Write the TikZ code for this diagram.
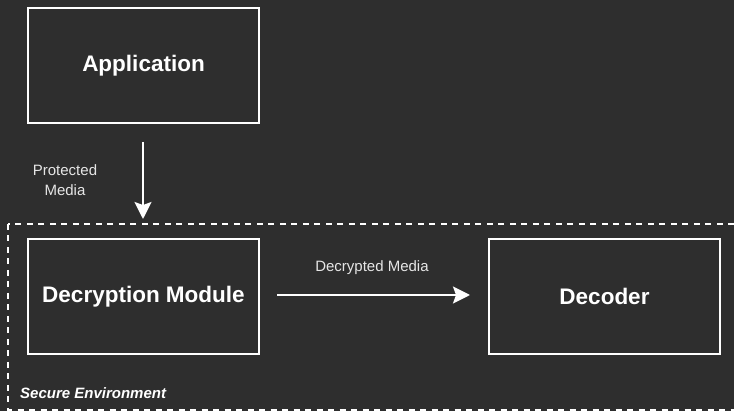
\documentclass[tikz,border=0pt]{standalone}
\usepackage{fontspec}
\setmainfont{Liberation Sans}
\usetikzlibrary{arrows.meta}
\definecolor{bgc}{HTML}{2E2E2E}
\definecolor{lbl}{HTML}{E6E6E6}
\begin{document}
\begin{tikzpicture}[x=1pt,y=-1pt,
  box/.style={draw=white, line width=2pt, minimum width=231pt, minimum height=115pt, inner sep=0pt, anchor=north west, font=\fontsize{22.5}{26}\selectfont\bfseries, text=white},
  lab/.style={font=\fontsize{15}{18}\selectfont, text=lbl, align=center, inner sep=0pt},
  conn/.style={draw=white, line width=2pt, -{Stealth[length=17pt,width=17pt,inset=3pt]}},
  zone/.style={draw=white, line width=2pt, dash pattern=on 6pt off 5.5pt}]
\fill[bgc] (0,0) rectangle (734,411);
\useasboundingbox (0,0) rectangle (734,411);
\clip (0,0) rectangle (734,411);
\draw[zone] (8,224) rectangle (760,410);
\node[box] (app) at (27,7) {Application};
\node[box] (dec) at (27,238) {Decryption Module};
\node[box, minimum width=231pt] (dcd) at (488,238) {Decoder};
\coordinate (a1) at (143,142);
\coordinate (a2) at (143,219);
\draw[conn] (a1) -- (a2);
\coordinate (b1) at (277,295);
\coordinate (b2) at (470,295);
\draw[conn] (b1) -- (b2);
\node[lab] (pm) at (65,180) {Protected\\[2pt]Media};
\node[lab] (dm) at (372,268) {Decrypted Media};
\node[lab, anchor=west, text=white, font=\fontsize{15}{18}\selectfont\bfseries\itshape] (se) at (20,393) {Secure Environment};
\end{tikzpicture}
\end{document}
